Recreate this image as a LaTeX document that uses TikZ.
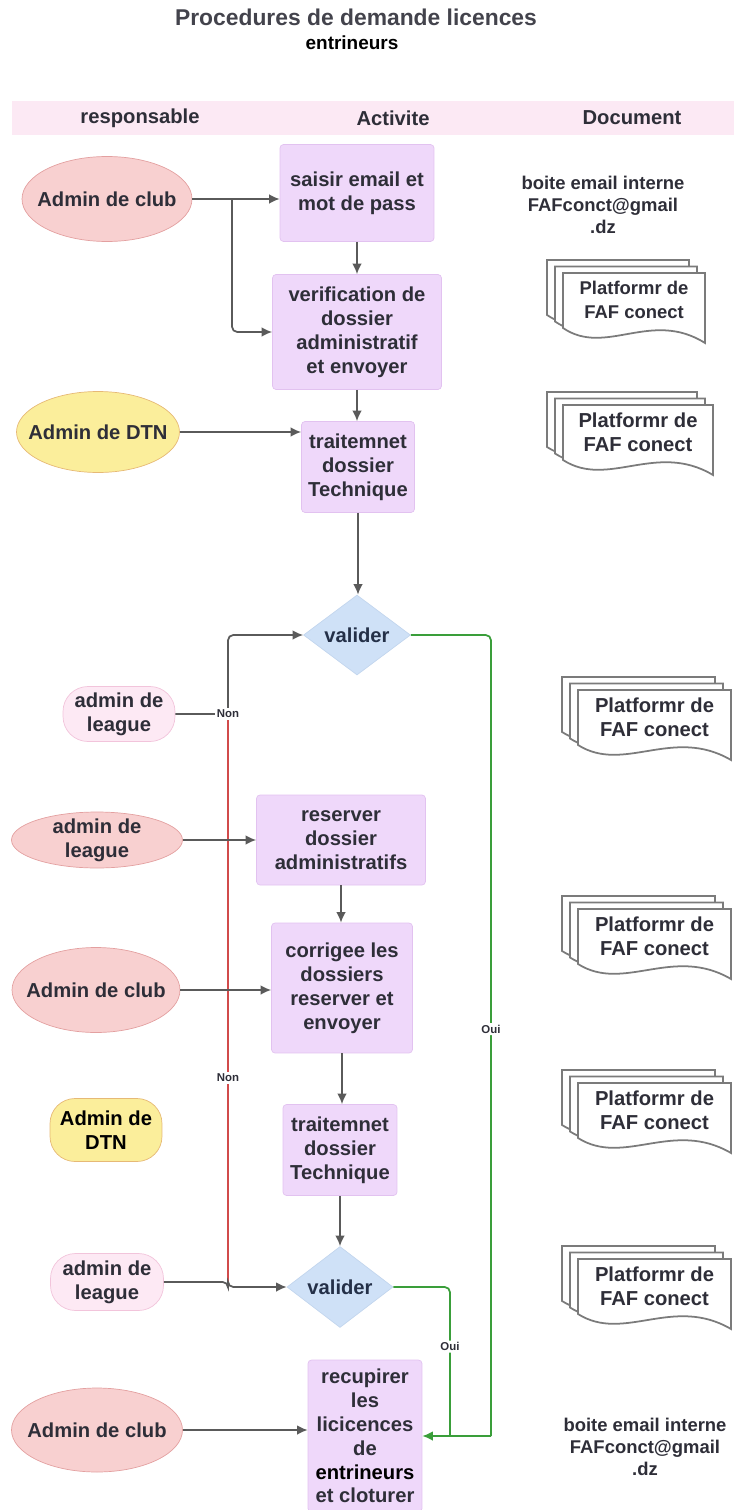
\documentclass[tikz,border=0pt]{standalone}
\usepackage{fontspec}
\setmainfont{Liberation Sans}
\usepackage{xcolor}
\definecolor{Lilac}{HTML}{EFD8FA}
\definecolor{Lilac Line}{HTML}{E2C2F0}
\definecolor{Salmon}{HTML}{F8D0D0}
\definecolor{Salmon Line}{HTML}{E3A0A0}
\definecolor{Butter}{HTML}{FBEE9B}
\definecolor{Butter Line}{HTML}{E6B976}
\definecolor{Blush}{HTML}{FDE9F4}
\definecolor{Blush Line}{HTML}{F2C4DB}
\definecolor{Sky}{HTML}{CFE1F7}
\definecolor{Sky Line}{HTML}{C3D6EE}
\colorlet{cBox}{Lilac}
\colorlet{cBoxLine}{Lilac Line}
\colorlet{cClub}{Salmon}
\colorlet{cClubLine}{Salmon Line}
\colorlet{cDtn}{Butter}
\colorlet{cDtnLine}{Butter Line}
\colorlet{cLeague}{Blush}
\colorlet{cLeagueLine}{Blush Line}
\colorlet{cDiamond}{Sky}
\colorlet{cDiamondLine}{Sky Line}
\definecolor{cHead}{HTML}{FCE9F4}
\definecolor{cArrow}{HTML}{5A5A5A}
\definecolor{cRed}{HTML}{D14B4B}
\definecolor{cGreen}{HTML}{3A9E3A}
\definecolor{cText}{HTML}{2E2E38}
\definecolor{cNavy}{HTML}{243048}
\usepackage{tikz}
\usetikzlibrary{arrows.meta, shapes.geometric, positioning}
\tikzset{
	line width = .75pt,
	>={Latex[length=6pt,width=5.5pt]},
	font = \bfseries\fontsize{11.5}{13.6}\selectfont,
	activity/.style={
		draw=cBoxLine,
		fill=cBox,
		rounded corners=2pt,
		align=center,
		text=cText,
		inner sep=0pt
	},
	actor/.style={
		ellipse,
		align=center,
		text=cText,
		inner xsep=-.5cm,
		inner ysep=-.2cm
	},
	club/.style={actor, draw=cClubLine, fill=cClub},
	dtn/.style={actor, draw=cDtnLine, fill=cDtn},
	pill/.style={
		rounded corners=.5cm,
		align=center,
		text=cText,
		inner sep=0pt
	},
	decision/.style={
		diamond,
		aspect=1.34,
		draw=cDiamondLine,
		fill=cDiamond,
		text=cNavy,
		inner sep=0pt,
		minimum width=2.14cm,
		minimum height=1.6cm
	},
	edge/.style={
		->,
		draw=cArrow,
		line width=1pt,
		rounded corners=3pt
	},
	nonedge/.style={draw=cRed, line width=1pt},
	ouiedge/.style={draw=cGreen, line width=1pt, rounded corners=3pt},
	tag/.style={
		fill=white,
		inner sep=1pt,
		text=cText,
		font=\bfseries\fontsize{6.5}{7}\selectfont
	},
	page/.style={draw=cArrow!80, fill=white, line width=1pt},
	mailtext/.style={align=center, text=cText, font=\bfseries\fontsize{10.5}{12.5}\selectfont}
}

\begin{document}
\begin{tikzpicture}[x=.02cm, y=-.02cm]
		\useasboundingbox (0,0) rectangle (734,1510);

		% title
		\node[text=cText!90, font=\bfseries\fontsize{13}{15}\selectfont] (title) at (356,17) {Procedures de demande licences};
		\node[font=\bfseries\fontsize{10.8}{12}\selectfont] (subtitle) at (352,43) {entrineurs};

		% header
		\fill[cHead] (12,101) rectangle (734,135);
		\node[text=cText] (hResp) at (140,118) {responsable};
		\node[text=cText] (hAct) at (393,118) {Activite};
		\node[text=cText] (hDoc) at (632,118) {Document};

		% responsables
		\node[club, minimum width=3.4cm, minimum height=1.7cm] (club1) at (107,199) {Admin de club};
		\node[dtn, minimum width=3.26cm, minimum height=1.62cm] (dtn1) at (98,432) {Admin de DTN};
		\node[pill, draw=cLeagueLine, fill=cLeague, minimum width=2.24cm, minimum height=1.1cm] (league1) at (119,714) {admin de\\league};
		\node[club, minimum width=3.42cm, minimum height=1.12cm] (league2) at (97,840) {admin de\\league};
		\node[club, minimum width=3.36cm, minimum height=1.7cm] (club2) at (96,990) {Admin de club};
		\node[pill, draw=cDtnLine, fill=cDtn, text=black, minimum width=2.24cm, minimum height=1.26cm] (dtn2) at (106,1130) {Admin de\\DTN};
		\node[pill, draw=cLeagueLine, fill=cLeague, minimum width=2.26cm, minimum height=1.14cm] (league3) at (107,1282) {admin de\\league};
		\node[club, minimum width=3.42cm, minimum height=1.68cm] (club3) at (97,1430) {Admin de club};

		% activites
		\node[activity, minimum width=3.08cm, minimum height=1.94cm] (box1) at (357,193) {saisir email et\\mot de pass};
		\node[activity, minimum width=3.38cm, minimum height=2.3cm] (box2) at (357,332) {verification de\\dossier\\administratif\\et envoyer};
		\node[activity, minimum width=2.26cm, minimum height=1.82cm] (box3) at (358,467) {traitemnet\\dossier\\Technique};
		\node[decision] (val1) at (357,635) {valider};
		\node[activity, minimum width=3.38cm, minimum height=1.8cm] (box4) at (341,840) {reserver\\dossier\\administratifs};
		\node[activity, minimum width=2.82cm, minimum height=2.6cm] (box5) at (342,988) {corrigee les\\dossiers\\reserver et\\envoyer};
		\node[activity, minimum width=2.28cm, minimum height=1.82cm] (box6) at (340,1150) {traitemnet\\dossier\\Technique};
		\node[decision, minimum width=2.12cm, minimum height=1.62cm] (val2) at (340,1287) {valider};
		\node[activity, minimum width=2.28cm, minimum height=3.04cm] (box7) at (365,1436) {recupirer\\les\\licicences\\de\\{\color{black}entrineurs}\\et cloturer};

		% documents
		\node[mailtext] (mail1) at (603,205) {boite email interne\\FAFconct@gmail\\.dz};
		\node[mailtext] (mail2) at (645,1447) {boite email interne\\FAFconct@gmail\\.dz};

		\foreach \n/\px/\py/\w/\fs in {1/563/273/142/10.5, 2/563/405/150/11.5, 3/578/690/153/11.5, 4/578/909/153/11.5, 5/578/1083/153/11.5, 6/578/1259/153/11.5} {
			\foreach \k in {2,1,0} {
				\begin{scope}[shift={(\px-8*\k,\py-6.5*\k)}]
					\draw[page] (0,55) -- (0,0) -- (\w,0) -- (\w,70)
						.. controls (0.62*\w,36) and (0.3*\w,84) .. (0,55) -- cycle;
				\end{scope}
			}
			\node[align=center, text=cText, font=\bfseries\fontsize{\fs}{13.6}\selectfont] (doc\n) at (\px+\w/2,\py+27) {Platformr de\\FAF conect};
		}

		% connectors
		\coordinate (j1) at (232,199);
		\draw[edge] (club1.east) -- (club1.east -| box1.west);
		\draw[edge] (j1) |- (box2.west);
		\draw[edge] (box1.south) -- (box2.north);
		\draw[edge] (box2.south) -- (box2.south |- box3.north);
		\draw[edge] (dtn1.east) -- (dtn1.east -| box3.west);
		\draw[edge] (box3.south) -- (box3.south |- val1.north);

		\coordinate (n1) at (228,714);
		\coordinate (n2) at (228,1287);
		\draw[nonedge] (n1) -- node[tag, pos=.635] {Non} (n2);
		\draw[edge] (league1.east) -- (n1) |- (val1.west);
		\node[tag] (non1) at (n1) {Non};
		\draw[edge] (league3.east) -- (n2 |- league3.east) -- (n2) -- (val2.west);

		\draw[edge] (league2.east) -- (league2.east -| box4.west);
		\draw[edge] (box4.south) -- (box4.south |- box5.north);
		\draw[edge] (club2.east) -- (club2.east -| box5.west);
		\draw[edge] (box5.south) -- (box5.south |- box6.north);
		\draw[edge] (box6.south) -- (val2.north);
		\draw[edge] (club3.east) -- (club3.east -| box7.west);

		\coordinate (g1) at (491,1436);
		\coordinate (g2) at (450,1436);
		\draw[ouiedge] (val1.east) -| node[tag, pos=.746] {Oui} (g1);
		\draw[ouiedge] (val2.east) -| node[tag, pos=.70] {Oui} (g2);
		\draw[ouiedge, ->] (g1) -- (box7.east);
	\end{tikzpicture}
\end{document}
